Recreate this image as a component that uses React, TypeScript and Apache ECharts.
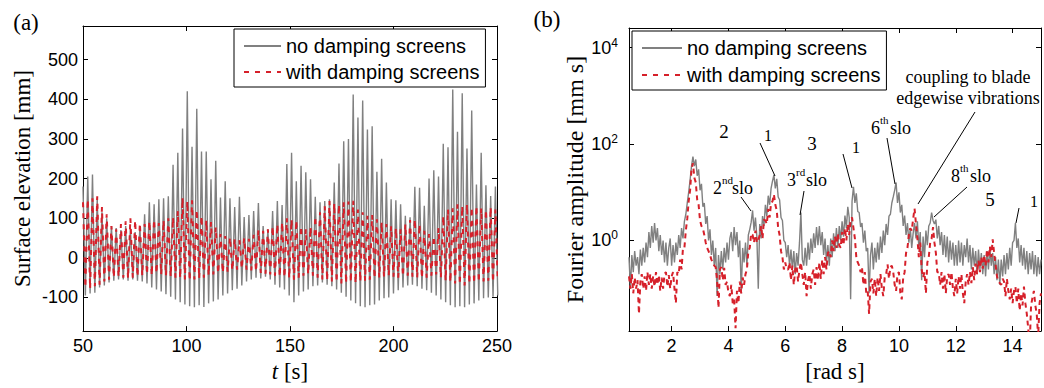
import React, { useEffect, useRef } from 'react';
import * as echarts from 'echarts';

const NAMES = ['no damping screens', 'with damping screens'];

// (a) time series: samples alternate crest / trough, uniform half-period sampling
const T_START = 50.0;
const HALF_PERIOD = 1.145;
const noDampCrest = [
  180, 205, 210, 150, 115, 100, 80, 75, 70, 80, 75, 65, 80, 110, 140, 135, 148, 150, 155, 235,
  265, 326, 420, 280, 376, 268, 268, 198, 245, 152, 193, 150, 128, 154, 103, 108, 118, 138, 80, 72,
  118, 143, 133, 237, 265, 193, 232, 216, 198, 154, 140, 143, 148, 190, 238, 294, 300, 412, 354, 397,
  324, 332, 217, 250, 190, 148, 145, 135, 106, 102, 179, 177, 131, 200, 221, 205, 288, 279, 425, 318,
  415, 276, 372, 185, 265, 183, 156, 180,
];
const noDampTrough = [
  -95, -90, -88, -75, -70, -62, -58, -55, -55, -58, -55, -58, -60, -65, -75, -80, -85, -92, -98, -105,
  -112, -118, -122, -125, -120, -124, -115, -110, -105, -95, -90, -82, -78, -70, -60, -55, -50, -52, -48, -55,
  -68, -75, -80, -95, -112, -95, -85, -80, -72, -70, -62, -68, -72, -80, -88, -98, -108, -115, -122, -125,
  -120, -118, -108, -102, -100, -90, -82, -75, -70, -68, -72, -78, -82, -88, -95, -105, -112, -120, -125, -122,
  -125, -118, -115, -108, -102, -100, -98, -95,
];
const dampCrest = [
  140, 148, 150, 155, 128, 110, 80, 72, 85, 92, 100, 95, 88, 85, 93, 97, 88, 95, 100, 102,
  118, 152, 143, 145, 122, 106, 95, 90, 77, 60, 55, 52, 48, 45, 50, 48, 58, 70, 68, 72,
  80, 85, 90, 100, 97, 95, 80, 72, 78, 105, 115, 130, 143, 138, 135, 140, 142, 144, 122, 115,
  106, 108, 97, 90, 85, 80, 75, 72, 85, 95, 98, 85, 68, 60, 55, 75, 106, 122, 125, 135,
  131, 135, 128, 131, 125, 122, 128, 122,
];
const dampTrough = [
  -75, -78, -72, -68, -60, -55, -50, -48, -50, -52, -50, -48, -45, -42, -45, -40, -42, -45, -48, -50,
  -52, -55, -58, -55, -52, -50, -45, -42, -40, -38, -35, -32, -30, -28, -30, -32, -35, -38, -40, -42,
  -45, -48, -50, -52, -55, -50, -45, -42, -45, -50, -55, -58, -60, -62, -65, -65, -62, -65, -60, -58,
  -55, -52, -50, -48, -45, -48, -50, -47, -45, -48, -50, -52, -50, -45, -42, -50, -58, -62, -65, -68,
  -70, -66, -65, -62, -60, -58, -62, -60,
];
const elevTicks = [-100, 0, 100, 200, 300, 400, 500];

// (b) Fourier spectra, frequency grid 0.5 : 0.05 : 15 rad/s
const FREQ_START = 0.5;
const FREQ_STEP = 0.05;
const specNoDamp = [
  0.45, 0.1, 0.5, 0.22, 0.6, 0.3, 0.45, 0.2, 0.65, 0.3,
  0.7, 0.35, 0.9, 0.45, 1.5, 0.7, 2.0, 0.9, 2.3, 1.0, 1.8, 0.6, 1.3, 0.5, 1.0, 0.35, 0.9, 0.3, 0.7, 1.1,
  0.3, 0.8, 0.35, 0.9, 0.5, 1.3, 0.7, 1.8, 1.1, 2.5, 3.5, 6, 10, 18, 35, 55, 35, 48, 22, 30,
  11, 15, 5, 6, 2.2, 3.2, 1.0, 1.7, 0.5, 1.0, 0.3, 0.7, 0.07, 0.5, 0.2, 0.6, 0.25, 0.7, 0.35, 0.9,
  0.4, 1.1, 1.5, 0.6, 1.9, 0.8, 1.5, 0.45, 1.0, 0.08, 0.7, 0.35, 0.9, 0.3, 1.3, 1.7, 2.4, 4.2, 1.6, 3.0,
  1.2, 0.1, 2.2, 1.1, 3.2, 2.0, 5.5, 3.2, 8.5, 5.5, 12, 17, 23, 12, 19, 8, 7, 3, 2.6, 1.0,
  0.9, 0.45, 0.8, 0.3, 0.65, 0.25, 0.6, 0.2, 0.55, 0.3, 0.9, 3.8, 0.4, 0.3, 0.7, 0.3, 0.9, 0.4, 1.1, 0.55,
  1.4, 0.7, 1.9, 0.8, 2.0, 0.8, 1.5, 0.5, 1.1, 0.35, 0.8, 0.3, 1.1, 0.45, 1.4, 0.6, 1.8, 0.7, 2.0, 1.0,
  2.5, 1.2, 3.3, 1.8, 5.0, 3.0, 0.06, 6.5, 13, 6, 9.5, 4, 3.8, 1.9, 2.3, 0.9, 1.6, 0.6, 0.7, 0.08,
  0.5, 0.9, 0.25, 0.7, 0.35, 0.9, 0.4, 1.2, 0.55, 1.6, 0.8, 2.2, 1.3, 3.2, 3.5, 6, 8, 11, 16, 6,
  10, 3.8, 5.5, 2.0, 3.3, 1.3, 2.3, 0.9, 1.8, 0.7, 1.4, 2.3, 1.1, 2.5, 0.7, 1.5, 0.15, 1.2, 0.45, 1.6,
  0.8, 2.0, 2.3, 3.8, 2.6, 2.2, 2.7, 1.1, 2.0, 0.8, 1.5, 0.5, 1.3, 0.45, 1.2, 0.35, 1.0, 0.4, 0.9, 0.3,
  0.8, 0.3, 1.0, 0.35, 0.9, 0.3, 0.8, 0.45, 1.1, 0.35, 0.8, 0.25, 0.7, 0.3, 0.6, 0.2, 0.65, 0.25, 0.55, 0.2,
  0.5, 0.18, 0.6, 0.25, 0.7, 0.3, 0.55, 0.2, 0.45, 0.15, 0.4, 0.12, 0.4, 0.18, 0.5, 0.2, 0.55, 0.25, 0.7, 0.3,
  0.9, 1.0, 2.3, 0.7, 1.1, 0.35, 0.8, 0.3, 0.7, 0.25, 0.6, 0.2, 0.55, 0.25, 0.6, 0.2, 0.5, 0.18, 0.45, 0.2,
  0.4,
];
const specDamp = [
  0.18, 0.1, 0.2, 0.08, 0.17, 0.1, 0.15, 0.03, 0.14, 0.2,
  0.1, 0.18, 0.09, 0.22, 0.12, 0.2, 0.1, 0.18, 0.11, 0.22, 0.12, 0.19, 0.09, 0.17, 0.1, 0.2, 0.22, 0.11, 0.19, 0.1,
  0.18, 0.22, 0.1, 0.05, 0.22, 0.2, 0.4, 0.25, 0.7, 0.7, 1.6, 2.8, 6.5, 11, 30, 40, 20, 16, 7, 5.5,
  2.6, 2.0, 1.8, 1.3, 0.9, 0.7, 0.6, 0.5, 0.4, 0.35, 0.3, 0.28, 0.15, 0.04, 0.25, 0.28, 0.15, 0.27, 0.12, 0.14,
  0.08, 0.07, 0.12, 0.05, 0.06, 0.015, 0.09, 0.05, 0.14, 0.08, 0.17, 0.12, 0.2, 0.25, 0.6, 0.7, 1.4, 1.3, 0.9, 1.6,
  0.9, 1.0, 1.3, 2.0, 1.1, 2.7, 2.6, 2.2, 4.5, 3.0, 6, 6.5, 9, 5.5, 4.2, 1.8, 1.3, 0.6, 0.45, 0.25,
  0.35, 0.25, 0.25, 0.35, 0.15, 0.3, 0.12, 0.25, 0.3, 0.14, 0.25, 0.35, 0.2, 0.12, 0.22, 0.07, 0.15, 0.2, 0.1, 0.2,
  0.25, 0.12, 0.28, 0.15, 0.35, 0.16, 0.4, 0.2, 0.45, 0.25, 0.55, 0.6, 0.45, 1.0, 0.6, 1.2, 0.7, 1.4, 0.8, 0.7,
  1.5, 0.8, 1.8, 1.0, 2.2, 1.3, 2.6, 3.0, 1.8, 1.1, 0.45, 0.35, 0.3, 0.22, 0.28, 0.12, 0.22, 0.08, 0.09, 0.03,
  0.14, 0.16, 0.08, 0.16, 0.07, 0.17, 0.09, 0.2, 0.1, 0.07, 0.17, 0.2, 0.32, 0.16, 0.28, 0.3, 0.22, 0.12, 0.09, 0.2,
  0.22, 0.08, 0.06, 0.17, 0.22, 0.55, 0.7, 1.3, 1.8, 1.6, 2.8, 4.6, 2.2, 1.1, 0.45, 0.9, 0.25, 0.17, 0.22, 0.08,
  0.35, 0.45, 0.9, 1.1, 1.9, 0.9, 0.55, 0.22, 0.22, 0.12, 0.22, 0.1, 0.2, 0.08, 0.18, 0.2, 0.12, 0.22, 0.1, 0.07,
  0.16, 0.08, 0.18, 0.1, 0.2, 0.08, 0.05, 0.14, 0.2, 0.12, 0.22, 0.13, 0.28, 0.15, 0.33, 0.2, 0.38, 0.22, 0.45, 0.26,
  0.5, 0.3, 0.65, 0.35, 0.75, 0.45, 1.05, 0.55, 0.32, 0.18, 0.14, 0.13, 0.12, 0.16, 0.14, 0.07, 0.16, 0.09, 0.06, 0.1,
  0.05, 0.09, 0.11, 0.05, 0.1, 0.035, 0.08, 0.045, 0.11, 0.05, 0.03, 0.015, 0.006, 0.045, 0.065, 0.09, 0.045, 0.03, 0.01, 0.05,
  0.08,
];
const freqTicks = [2, 4, 6, 8, 10, 12, 14];
const ampTicks = [1, 100, 10000];

const GREY = '#808080';
const RED = '#d6202a';
const SANS = 'Liberation Sans';
const SERIF = 'Liberation Serif';

function timeSeries(crest: number[], trough: number[]) {
  const out: number[][] = [];
  for (let i = 0; i < crest.length; i++) {
    out.push([T_START + 2 * i * HALF_PERIOD, crest[i]]);
    out.push([T_START + (2 * i + 1) * HALF_PERIOD, trough[i]]);
  }
  return out;
}
function spectrum(vals: number[]) {
  return vals.map((v, i) => [+(FREQ_START + i * FREQ_STEP).toFixed(2), v]);
}

const tickStyle = { show: true, inside: true, length: 5, lineStyle: { color: '#000', width: 1 } };
const lineStyleAx = { show: true, onZero: false, lineStyle: { color: '#000', width: 1 } };

function txt(text: string, x: number, y: number, size: number, align = 'center', font = SERIF) {
  return {
    type: 'text', z: 100, x, y,
    style: { text, fontSize: size, fontFamily: font, fill: '#000', align, verticalAlign: 'middle' },
  };
}
function ln(x1: number, y1: number, x2: number, y2: number) {
  return { type: 'line', z: 100, shape: { x1, y1, x2, y2 }, style: { stroke: '#000', lineWidth: 1 } };
}
function sloLabel(num: string, sup: string, x: number, y: number) {
  return [
    txt(num, x, y, 18, 'left'),
    txt(sup, x + 9, y - 8, 11, 'left'),
    txt('slo', x + 19, y, 18, 'left'),
  ];
}

export default function App() {
  const ref = useRef<HTMLDivElement>(null);
  useEffect(() => {
    const chart = echarts.init(ref.current!, null, { renderer: 'svg' });
    const supLabel = (v: number) => `{b|10}{s|${Math.round(Math.log10(v))}}`;
    const legendBase = {
      data: NAMES, orient: 'vertical', selectedMode: false,
      borderColor: '#000', borderWidth: 1, borderRadius: 0, backgroundColor: '#fff',
      itemHeight: 14, itemStyle: { opacity: 0 },
      textStyle: { fontSize: 20, fontFamily: SANS, color: '#000', lineHeight: 20 },
    };
    const option: any = {
      animation: false,
      backgroundColor: '#fff',
      grid: [
        { left: 83, top: 26, width: 414, height: 306 },
        { left: 629, top: 28, width: 412, height: 306 },
      ],
      legend: [
        { ...legendBase, left: 234, top: 29, padding: [7, 6, 5, 9], itemGap: 6, itemWidth: 37 },
        { ...legendBase, left: 632, top: 31, padding: [7, 6, 5, 9], itemGap: 7, itemWidth: 40 },
      ],
      xAxis: [
        {
          gridIndex: 0, type: 'value', min: 50, max: 250, interval: 50, position: 'bottom',
          axisLine: lineStyleAx, axisTick: tickStyle, splitLine: { show: false },
          axisLabel: { fontSize: 18, fontFamily: SANS, color: '#000', margin: 6 },
          name: '{i|t} [s]', nameLocation: 'middle', nameGap: 24,
          nameTextStyle: {
            fontSize: 23, fontFamily: SERIF, color: '#000',
            rich: { i: { fontStyle: 'italic', fontSize: 23, fontFamily: SERIF, color: '#000' } },
          },
        },
        {
          gridIndex: 0, type: 'value', min: 50, max: 250, interval: 50, position: 'top',
          axisLine: lineStyleAx, axisTick: tickStyle, axisLabel: { show: false }, splitLine: { show: false },
        },
        {
          gridIndex: 1, type: 'value', min: 0.5, max: 15, position: 'bottom',
          axisLine: lineStyleAx, axisTick: { ...tickStyle, customValues: freqTicks }, splitLine: { show: false },
          axisLabel: { fontSize: 18, fontFamily: SANS, color: '#000', margin: 6, customValues: freqTicks },
          name: '[rad s]', nameLocation: 'middle', nameGap: 29,
          nameTextStyle: { fontSize: 23, fontFamily: SERIF, color: '#000' },
        },
        {
          gridIndex: 1, type: 'value', min: 0.5, max: 15, position: 'top',
          axisLine: lineStyleAx, axisTick: { ...tickStyle, customValues: freqTicks },
          axisLabel: { show: false }, splitLine: { show: false },
        },
      ],
      yAxis: [
        {
          gridIndex: 0, type: 'value', min: -185, max: 585, position: 'left',
          axisLine: lineStyleAx, axisTick: { ...tickStyle, customValues: elevTicks }, splitLine: { show: false },
          axisLabel: { fontSize: 18, fontFamily: SANS, color: '#000', margin: 5, customValues: elevTicks },
          name: 'Surface elevation [mm]', nameLocation: 'middle', nameGap: 49,
          nameTextStyle: { fontSize: 23, fontFamily: SERIF, color: '#000' },
        },
        {
          gridIndex: 0, type: 'value', min: -185, max: 585, position: 'right',
          axisLine: lineStyleAx, axisTick: { ...tickStyle, customValues: elevTicks },
          axisLabel: { show: false }, splitLine: { show: false },
        },
        {
          gridIndex: 1, type: 'log', logBase: 10, min: 0.0132, max: 25700, position: 'left',
          axisLine: lineStyleAx, axisTick: { ...tickStyle, customValues: ampTicks }, splitLine: { show: false },
          minorTick: { show: false },
          axisLabel: {
            margin: 11, customValues: ampTicks, formatter: supLabel, color: '#000',
            rich: {
              b: { fontSize: 18, fontFamily: SANS, color: '#000', lineHeight: 22 },
              s: { fontSize: 12, fontFamily: SANS, color: '#000', lineHeight: 12, verticalAlign: 'top' },
            },
          },
          name: 'Fourier amplitude [mm s]', nameLocation: 'middle', nameGap: 40,
          nameTextStyle: { fontSize: 24, fontFamily: SERIF, color: '#000' },
        },
        {
          gridIndex: 1, type: 'log', logBase: 10, min: 0.0132, max: 25700, position: 'right',
          axisLine: lineStyleAx, axisTick: { ...tickStyle, customValues: ampTicks },
          axisLabel: { show: false }, splitLine: { show: false },
        },
      ],
      series: [
        {
          name: NAMES[0], type: 'line', xAxisIndex: 0, yAxisIndex: 0, data: timeSeries(noDampCrest, noDampTrough),
          symbol: 'none', showSymbol: false, lineStyle: { color: GREY, width: 1.4 }, itemStyle: { color: GREY }, z: 2,
        },
        {
          name: NAMES[1], type: 'line', xAxisIndex: 0, yAxisIndex: 0, data: timeSeries(dampCrest, dampTrough),
          symbol: 'none', showSymbol: false, lineStyle: { color: RED, width: 2, type: [5, 6] }, itemStyle: { color: RED }, z: 3,
        },
        {
          name: NAMES[0], type: 'line', xAxisIndex: 2, yAxisIndex: 2, data: spectrum(specNoDamp),
          symbol: 'none', showSymbol: false, lineStyle: { color: GREY, width: 1.4 }, itemStyle: { color: GREY }, z: 2,
        },
        {
          name: NAMES[1], type: 'line', xAxisIndex: 2, yAxisIndex: 2, data: spectrum(specDamp),
          symbol: 'none', showSymbol: false, lineStyle: { color: RED, width: 2, type: [5, 4] }, itemStyle: { color: RED }, z: 3,
        },
      ],
      graphic: [
        txt('(a)', 26, 22, 23),
        txt('(b)', 547, 19, 23),
        txt('2', 724, 131, 19),
        txt('3', 812, 143, 19),
        txt('5', 990, 199, 19),
        txt('coupling to blade', 968, 77, 18),
        txt('edgewise vibrations', 968, 98, 18),
        {
          type: 'group', z: 100,
          children: [
            txt('1', 768, 135, 16),
            txt('1', 856, 147, 16),
            txt('1', 1034, 201, 16),
          ],
        },
        ...sloLabel('2', 'nd', 713, 188),
        ...sloLabel('3', 'rd', 787, 180),
        ...sloLabel('6', 'th', 871, 128),
        ...sloLabel('8', 'th', 951, 176),
        ln(741, 197, 751, 211),
        ln(760, 143, 775, 176),
        ln(804, 191, 800, 215),
        ln(843, 154, 852, 188),
        ln(887, 138, 895, 184),
        ln(975, 112, 918, 204),
        ln(967, 187, 934, 217),
        ln(1019, 208, 1016, 223),
      ],
    };
    chart.setOption(option);
    return () => chart.dispose();
  }, []);
  return <div ref={ref} style={{ position: 'fixed', left: 0, top: 0, width: 1044, height: 388 }} />;
}
